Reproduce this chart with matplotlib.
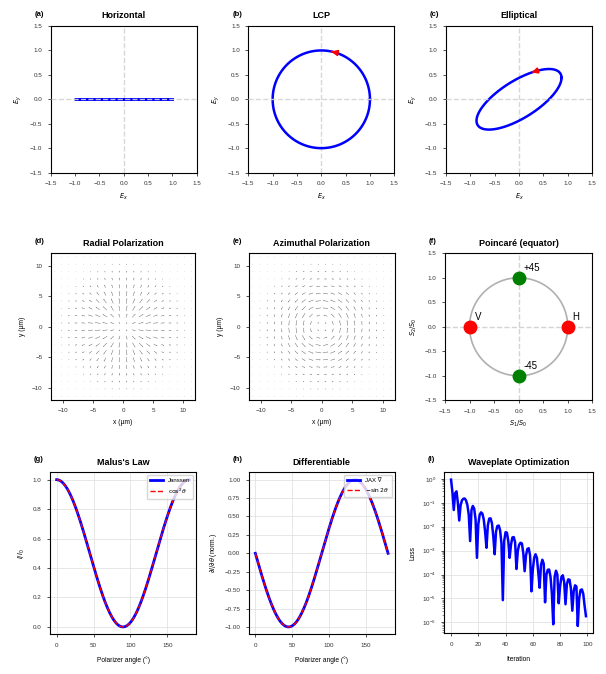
import numpy as np
import matplotlib
matplotlib.use("Agg")
import matplotlib.pyplot as plt

plt.rcParams['font.family'] = ['Liberation Sans', 'DejaVu Sans']
plt.rcParams['mathtext.fontset'] = 'dejavusans'
plt.rcParams['axes.linewidth'] = 0.8
plt.rcParams['xtick.labelsize'] = 4.5
plt.rcParams['ytick.labelsize'] = 4.5
plt.rcParams['xtick.major.size'] = 2.5
plt.rcParams['ytick.major.size'] = 2.5
plt.rcParams['xtick.major.width'] = 0.6
plt.rcParams['ytick.major.width'] = 0.6
plt.rcParams['xtick.color'] = '#333333'
plt.rcParams['ytick.color'] = '#333333'

# ---------------- data ----------------
pol_titles = ["Horizontal", "LCP", "Elliptical"]
# Jones amplitudes (Ex amp, Ey amp, relative phase in rad)
pol_ex_amp = [1.0, 1.0, 0.87]
pol_ey_amp = [0.0, 1.0, 0.62]
pol_phase = [0.0, np.pi / 2, np.pi / 4]
arrow_t = [None, 1.30, 1.15]

field_coords = np.linspace(-11.4, 11.4, 20)
beam_waist = 5.7

poincare_labels = ["H", "V", "+45", "-45"]
poincare_s1 = [1.0, -1.0, 0.0, 0.0]
poincare_s2 = [0.0, 0.0, 1.0, -1.0]
poincare_colors = ["red", "red", "green", "green"]

polarizer_angle_deg = np.linspace(0, 180, 181)

loss_log10 = [
    -0.03, -0.55, -1.30, -0.60, -0.52, -1.00, -1.74, -1.10, -0.90, -0.83,
    -0.82, -0.90, -1.10, -1.50, -2.60, -1.30, -1.13, -1.25, -1.70, -3.30,
    -1.90, -1.50, -1.40, -1.45, -1.70, -2.20, -2.88, -1.95, -1.66, -1.65,
    -1.85, -2.40, -3.15, -2.20, -1.97, -1.95, -2.15, -2.70, -5.07, -2.60,
    -2.23, -2.25, -2.60, -3.30, -2.75, -2.45, -2.43, -2.65, -3.77, -3.00,
    -2.75, -2.67, -2.70, -3.10, -3.86, -3.20, -2.93, -2.90, -3.20, -4.70,
    -3.80, -3.30, -3.15, -3.30, -3.90, -4.55, -3.60, -3.38, -3.55, -5.16,
    -4.00, -3.80, -3.79, -4.10, -4.80, -6.08, -4.10, -3.84, -4.00, -5.20,
    -4.50, -4.10, -4.03, -4.30, -5.24, -4.40, -4.20, -4.22, -4.60, -5.51,
    -4.70, -4.45, -4.50, -6.15, -5.00, -4.65, -4.62, -4.80, -5.30, -5.74,
]
iterations = np.arange(len(loss_log10))

# ---------------- figure ----------------
W, H = 606, 674
fig = plt.figure(figsize=(W / 100, H / 100), dpi=100)


def add_ax(left, top, right, bottom):
    return fig.add_axes([left / W, 1 - bottom / H, (right - left) / W, (bottom - top) / H])


def panel_label(ax, s):
    ax.text(-0.11, 1.055, s, transform=ax.transAxes, fontsize=5.5,
            fontweight='bold', va='bottom', ha='left')


def title(ax, s):
    ax.set_title(s, fontsize=6.5, fontweight='bold', pad=5.5)


lbl_fs = 4.8
row1 = [(50.7, 26, 196.7, 172.6), (248.3, 26, 394.3, 172.6), (445.7, 26, 592.3, 172.6)]
letters = "abcdefghi"
t = np.linspace(0, 2 * np.pi, 400)
for i, (box, ttl) in enumerate(zip(row1, pol_titles)):
    ax = add_ax(*box)
    ex = pol_ex_amp[i] * np.cos(t)
    ey = pol_ey_amp[i] * np.cos(t - pol_phase[i])
    ax.plot(ex, ey, color='blue', lw=1.8, zorder=2)
    ax.axhline(0, color='lightgray', ls='--', lw=1.0, alpha=0.9, zorder=3)
    ax.axvline(0, color='lightgray', ls='--', lw=1.0, alpha=0.9, zorder=1)
    if arrow_t[i] is not None:
        ta = arrow_t[i]
        p0 = (pol_ex_amp[i] * np.cos(ta), pol_ey_amp[i] * np.cos(ta - pol_phase[i]))
        p1 = (pol_ex_amp[i] * np.cos(ta + 0.12), pol_ey_amp[i] * np.cos(ta + 0.12 - pol_phase[i]))
        ax.annotate("", xy=p1, xytext=p0,
                    arrowprops=dict(arrowstyle='-|>', color='red', lw=1.4,
                                    mutation_scale=8), zorder=4)
    ax.set_xlim(-1.5, 1.5)
    ax.set_ylim(-1.5, 1.5)
    ax.set_xticks(np.arange(-1.5, 1.51, 0.5))
    ax.set_yticks(np.arange(-1.5, 1.51, 0.5))
    ax.set_xlabel(r"$E_x$", fontsize=lbl_fs)
    ax.set_ylabel(r"$E_y$", fontsize=lbl_fs)
    title(ax, ttl)
    panel_label(ax, f"({letters[i]})")

# ---- vector fields ----
X, Y = np.meshgrid(field_coords, field_coords)
R = np.hypot(X, Y)
amp = (R / beam_waist) * np.exp(-(R / beam_waist) ** 2)
ux, uy = X / R, Y / R
fields = [(ux * amp, uy * amp, "Radial Polarization"),
          (-uy * amp, ux * amp, "Azimuthal Polarization")]
row2 = [(50.7, 253.3, 195.3, 400.0), (249.0, 253.3, 394.7, 400.0)]
spacing = field_coords[1] - field_coords[0]
for j, ((U, V, ttl), box) in enumerate(zip(fields, row2)):
    ax = add_ax(*box)
    ax.quiver(X, Y, U, V, angles='xy', scale_units='xy',
              scale=amp.max() / (0.75 * spacing), pivot='middle',
              color='0.35', width=0.003, headwidth=2.5, headlength=2.5,
              headaxislength=2.2)
    ax.set_xlim(-12, 12)
    ax.set_ylim(-12, 12)
    ax.set_xticks([-10, -5, 0, 5, 10])
    ax.set_yticks([-10, -5, 0, 5, 10])
    ax.set_xlabel("x (µm)", fontsize=lbl_fs)
    ax.set_ylabel("y (µm)", fontsize=lbl_fs)
    title(ax, ttl)
    panel_label(ax, f"({letters[3 + j]})")

# ---- Poincare ----
ax = add_ax(445.0, 253.3, 592.3, 400.3)
ax.plot(np.cos(t), np.sin(t), color='#b0b0b0', lw=1.2, zorder=1)
ax.axhline(0, color='lightgray', ls='--', lw=1.0, zorder=0)
ax.axvline(0, color='lightgray', ls='--', lw=1.0, zorder=0)
for lab, s1, s2, c in zip(poincare_labels, poincare_s1, poincare_s2, poincare_colors):
    ax.plot(s1, s2, 'o', color=c, ms=9, zorder=3)
    ax.text(s1 + 0.1, s2 + 0.1, lab, fontsize=7, ha='left', va='bottom')
ax.set_xlim(-1.5, 1.5)
ax.set_ylim(-1.5, 1.5)
ax.set_xticks(np.arange(-1.5, 1.51, 0.5))
ax.set_yticks(np.arange(-1.5, 1.51, 0.5))
ax.set_xlabel(r"$S_1/S_0$", fontsize=lbl_fs)
ax.set_ylabel(r"$S_2/S_0$", fontsize=lbl_fs)
title(ax, "Poincaré (equator)")
panel_label(ax, "(f)")

# ---- Malus ----
theta = np.deg2rad(polarizer_angle_deg)
ax = add_ax(50.0, 472.3, 196.0, 634.3)
ax.plot(polarizer_angle_deg, np.cos(theta) ** 2, color='blue', lw=2, label='Janssen')
ax.plot(polarizer_angle_deg, np.cos(theta) ** 2, color='red', ls='--', lw=1, label=r'$\cos^2\theta$')
ax.grid(True, color='#dddddd', lw=0.5)
ax.set_xlabel("Polarizer angle (°)", fontsize=lbl_fs, labelpad=6)
ax.set_ylabel(r"$I/I_0$", fontsize=lbl_fs)
ax.set_xticks([0, 50, 100, 150])
ax.tick_params(axis='x', pad=4)
ax.legend(fontsize=4.3, loc='upper right', handlelength=2.2, borderpad=0.5)
title(ax, "Malus's Law")
panel_label(ax, "(g)")

# ---- Differentiable ----
ax = add_ax(248.7, 472.3, 394.7, 634.3)
ax.plot(polarizer_angle_deg, -np.sin(2 * theta), color='blue', lw=2, label='JAX ∇')
ax.plot(polarizer_angle_deg, -np.sin(2 * theta), color='red', ls='--', lw=1, label=r'$-\sin 2\theta$')
ax.grid(True, color='#dddddd', lw=0.5)
ax.set_xlabel("Polarizer angle (°)", fontsize=lbl_fs, labelpad=6)
ax.set_ylabel(r"$\partial I/\partial\theta$ (norm.)", fontsize=lbl_fs)
ax.set_xticks([0, 50, 100, 150])
ax.set_yticks(np.arange(-1.0, 1.01, 0.25))
ax.tick_params(axis='x', pad=4)
ax.legend(fontsize=4.3, loc='upper right', handlelength=2.2, borderpad=0.5)
title(ax, "Differentiable")
panel_label(ax, "(h)")

# ---- Loss ----
ax = add_ax(444.3, 472.3, 592.7, 633.3)
ax.semilogy(iterations, 10.0 ** np.array(loss_log10), color='blue', lw=1.8)
ax.grid(True, color='#dddddd', lw=0.5)
ax.set_xlabel("Iteration", fontsize=lbl_fs, labelpad=6)
ax.set_ylabel("Loss", fontsize=lbl_fs)
ax.set_xticks([0, 20, 40, 60, 80, 100])
ax.tick_params(axis='x', pad=4)
ax.tick_params(which='minor', length=1.5, width=0.4)
title(ax, "Waveplate Optimization")
panel_label(ax, "(i)")

fig.savefig("out.png", dpi=100)
